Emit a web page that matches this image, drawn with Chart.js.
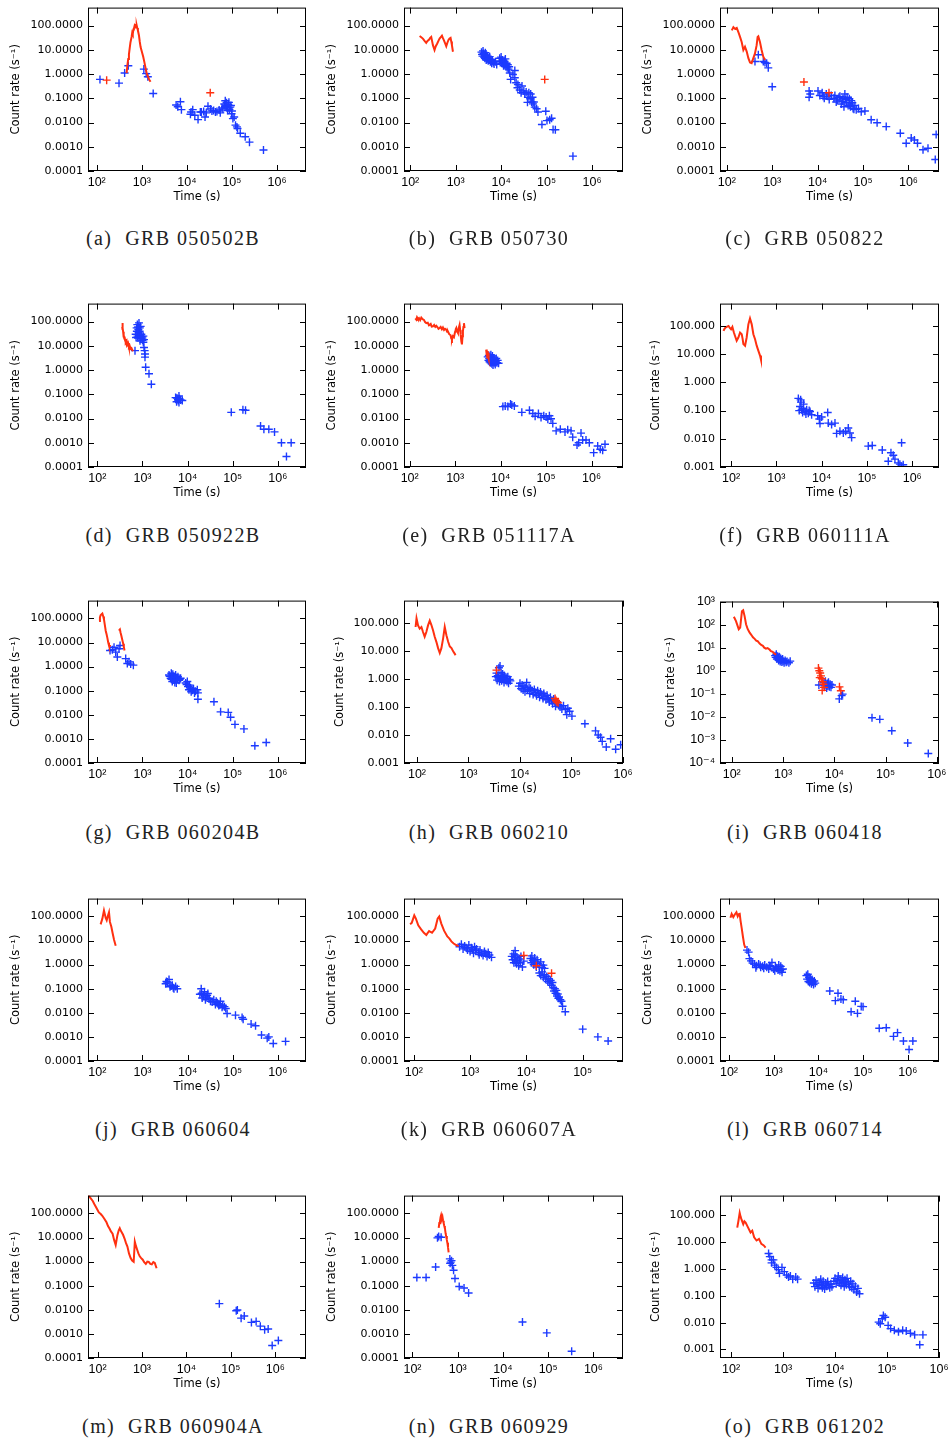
<!DOCTYPE html>
<html>
<head>
<meta charset="utf-8">
<script src="https://cdn.jsdelivr.net/npm/chart.js@4.4.0/dist/chart.umd.min.js"></script>
<style>
  body { margin: 0; background: #fff; width: 949px; height: 1444px; position: relative; overflow: hidden; }
  canvas { position: absolute; }
  .cap { position: absolute; font: 20px "Liberation Serif", serif; letter-spacing: 1.4px; color: #222;
         transform: translate(-50%, -50%); white-space: nowrap; }
</style>
</head>
<body>
<script>
// Tick labels
const xTickVals = [1e2, 1e3, 1e4, 1e5, 1e6];
const xTickText = ['10²', '10³', '10⁴', '10⁵', '10⁶'];
const yTickVals4 = [1e-4, 1e-3, 1e-2, 1e-1, 1, 10, 100];
const yTickText4 = ['0.0001', '0.0010', '0.0100', '0.1000', '1.0000', '10.0000', '100.0000'];
const yTickVals3 = [1e-3, 1e-2, 1e-1, 1, 10, 100];
const yTickText3 = ['0.001', '0.010', '0.100', '1.000', '10.000', '100.000'];
const yTickValsPow = [1e-4, 1e-3, 1e-2, 1e-1, 1, 10, 100, 1000];
const yTickTextPow = ['10⁻⁴', '10⁻³', '10⁻²', '10⁻¹', '10⁰', '10¹', '10²', '10³'];

const grbNames = ['GRB 050502B', 'GRB 050730', 'GRB 050822', 'GRB 050922B', 'GRB 051117A', 'GRB 060111A',
  'GRB 060204B', 'GRB 060210', 'GRB 060418', 'GRB 060604', 'GRB 060607A', 'GRB 060714',
  'GRB 060904A', 'GRB 060929', 'GRB 061202'];

// Time ranges of each panel (s)
const xRanges = [[64, 4.4e6], [73, 4.8e6], [71, 4.7e6], [62, 4.2e6], [75, 4.9e6], [57, 3.9e6],
  [62, 4.2e6], [56, 1e6], [59, 1.1e6], [62, 4.2e6], [67, 5.2e5], [63, 5e6],
  [61, 4.9e6], [65, 4.5e6], [61, 1e6]];

// (a) GRB 050502B  [time (s), count rate (1/s)]
const redA = [[460,1.1],[480,2.4],[500,4.2],[518,6.5],[540,12],[560,20],[594,34],[612,50],[630,44],[650,68],[668,75],[690,96],[710,84],[728,117],[745,94],[770,102],[793,80],[820,62],[863,40],[900,22],[940,13],[1000,8.5],[1075,5.2],[1140,3.1],[1210,1.8],[1280,1.1],[1364,0.8],[1450,0.6],[1563,0.48]];
const redPtsA = [[166,0.56],[33000,0.17]];
const blueA = [[118,0.6],[312,0.42],[416,1.11],[502,2.2],[1110,1.6],[1250,1.04],[1360,0.77],[1790,0.157],[5770,0.053],[6280,0.045],[7190,0.072],[7570,0.034],[12400,0.027],[13500,0.034],[12000,0.022],[17700,0.0132],[19900,0.027],[23600,0.0285],[25300,0.0168],[29400,0.047],[33100,0.0365],[39300,0.031],[46500,0.0285],[55100,0.025],[63100,0.0365],[67600,0.058],[71100,0.079],[74800,0.05],[80000,0.031],[85700,0.068],[91700,0.043],[98100,0.023],[105000,0.0145],[112000,0.0168],[120000,0.0078],[129000,0.0066],[133000,0.0057],[153000,0.0036],[197000,0.0026],[245000,0.00155],[501000,0.00073],[70000,0.045],[76000,0.065],[78000,0.04],[83000,0.055],[88000,0.035],[95000,0.05],[100000,0.03],[60000,0.04],[52000,0.033],[43000,0.027],[36000,0.03],[27000,0.025],[21000,0.027],[15000,0.02]];

// (b) GRB 050730
const redB = [[161,37],[175,33],[190,29],[205,24],[225,19.3],[240,23],[258,26],[275,31],[290,34],[316,15.5],[343,9.8],[365,14],[393,18.2],[420,24],[443,29],[470,33],[499,38],[525,30],[552,24.5],[590,18],[621,14.1],[660,20],[699,26],[735,29],[773,31],[800,22],[827,15.5],[871,8.3]];
const redPtsB = [[91000,0.6]];
const blueB = [[3700,8],[3800,6.5],[3900,5.5],[4000,9],[4100,7],[4200,5],[4300,6.2],[4400,4.5],[4500,7.5],[4600,5.5],[4700,3.8],[4800,6],[4900,4.2],[5000,5],[5200,3.5],[5300,4.5],[5500,3.8],[5600,5.2],[5800,3.2],[6000,4],[6200,2.8],[6400,3.6],[6700,3],[7000,2.6],[7500,3.2],[8000,2.5],
  [9300,4.5],[9700,3.5],[10000,5],[10300,2.8],[10600,3.8],[11000,3],[11300,2.2],[11700,3.3],[12000,2.5],[12400,4.2],[12800,2],[13200,2.8],[13600,1.8],[14000,2.4],[14500,1.6],[15000,2],[15500,1.1],
  [16200,0.6],[18200,0.95],[20000,1.4],[20000,0.7],[21400,0.44],[22900,0.27],[23400,0.37],[25700,0.22],[27500,0.17],[28800,0.32],[31600,0.2],[33100,0.15],[35500,0.18],[38000,0.068],[38900,0.11],[40700,0.17],[43600,0.095],[44700,0.15],[46800,0.07],[49000,0.11],[50100,0.059],[52500,0.07],[55000,0.043],[60300,0.037],[64600,0.027],
  [79000,0.0083],[96000,0.029],[102000,0.012],[117000,0.013],[129000,0.015],[139000,0.0051],[156000,0.005],[380000,0.00041]];

// (c) GRB 050822
const redC = [[129,63],[140,86],[152,73],[166,80],[180,54],[196,34],[213,21],[232,9.8],[252,13.3],[275,8.4],[299,4.5],[325,3.0],[353,2.8],[385,4.5],[418,7.1],[455,15.5],[478,34],[495,36],[538,21],[585,9.8],[637,5.2],[693,3.8]];
const redPtsC = [[5000,0.47],[17800,0.17]];
const blueC = [[418,3.3],[495,6.2],[637,3.3],[693,3.0],[755,2.8],[820,1.8],[1000,0.3],
  [6500,0.2],[6500,0.11],[6900,0.15],[10200,0.2],[11200,0.13],[12600,0.17],[13200,0.12],[15500,0.15],[20000,0.13],[22900,0.1],[25700,0.07],[29500,0.11],[33100,0.058],[36300,0.095],[39800,0.15],[42700,0.068],[44700,0.11],[51300,0.058],[55000,0.08],[60300,0.038],[66100,0.05],[70800,0.034],[79400,0.038],[91200,0.028],
  [14000,0.1],[17000,0.12],[18000,0.09],[24000,0.13],[27000,0.085],[31000,0.12],[35000,0.075],[38000,0.045],[41000,0.09],[47000,0.05],[50000,0.095],[53000,0.045],[58000,0.065],[63000,0.035],
  [110000,0.03],[151000,0.013],[204000,0.0098],[324000,0.0068],[661000,0.0036],[891000,0.0014],[1150000,0.0023],[1350000,0.0019],[1580000,0.0014],[2090000,0.00075],[2690000,0.00087],[4070000,0.0032],[3890000,0.0003]];

// (d) GRB 050922B
const redD = [[355,60],[358,88],[362,45],[367,55],[372,38],[378,32],[383,22],[388,28],[395,20],[400,24],[410,17],[420,19],[430,14],[445,16],[460,11],[480,13],[500,9],[520,10],[545,7.5],[570,8],[600,6.5],[630,6.8]];
const blueD = [[682,6.3],[706,30],[720,22],[743,55],[750,40],[769,75],[780,25],[794,21],[800,60],[809,48],[820,35],[836,88],[845,28],[865,40],[870,55],[881,16],[890,25],[910,63],[920,20],[942,30],[960,24],[991,21],[1000,17],[1043,25],[1043,14],[1079,18],[1079,8.5],[1117,6.3],[1136,4.6],[1136,3.4],[1175,1.3],[1393,0.7],[1570,0.26],
  [5420,0.073],[5700,0.049],[6100,0.062],[6430,0.085],[6430,0.046],[7000,0.058],[7620,0.055],[5800,0.07],[6200,0.055],[6600,0.065],
  [92700,0.018],[168000,0.023],[192000,0.022],[413000,0.0049],[490000,0.0036],[630000,0.0036],[843000,0.0028],[1200000,0.001],[1970000,0.001],[1550000,0.00027]];

// (e) GRB 051117A
const redE = [[133,136],[140,120],[145,150],[152,128],[160,140],[170,115],[180,145],[192,125],[206,117],[218,95],[232,86],[250,90],[265,70],[275,73],[290,80],[305,62],[325,63],[345,72],[365,60],[385,67],[410,58],[430,50],[455,54],[480,60],[510,48],[538,57],[570,45],[600,50],[637,46],[665,38],[693,39],[740,30],[795,27],[820,20],[850,18],[890,25],[940,22.5],[970,30],[1000,39],[1030,48],[1060,54],[1100,40],[1150,34],[1200,55],[1250,73],[1290,45],[1320,29],[1370,15],[1410,11.4],[1450,25],[1480,39],[1520,60],[1560,86],[1610,54]];
const redE2 = [[4800,7],[4900,4],[5000,5.5],[5100,3.2],[5200,6],[5300,3.8],[5400,5],[5500,3]];
const blueE = [[5200,3.5],[5400,2.5],[5500,4],[5600,3],[5700,2.2],[5800,3.6],[5900,2.8],[6000,2],[6100,4.3],[6200,2.5],[6300,3.2],[6400,1.8],[6500,2.7],[6600,3.8],[6700,2.2],[6800,1.6],[6900,3],[7000,2.4],[7200,2],[7400,2.8],[7600,1.7],[7800,2.3],[8000,3],[8300,2],[8600,2.5],[9000,1.9],
  [11200,0.031],[12600,0.033],[14400,0.031],[16500,0.04],[17600,0.036],[20000,0.033],[29200,0.018],[43000,0.022],[51000,0.016],[57300,0.0124],[67700,0.016],[77300,0.011],[88700,0.013],[100000,0.0116],[109000,0.0093],[118000,0.013],[128000,0.0098],[140000,0.0063],[166000,0.0031],[205000,0.0036],[260000,0.0028],[298000,0.0034],[353000,0.0031],[384000,0.0017],[478000,0.00081],[520000,0.001],[585000,0.0025],[636000,0.0013],[753000,0.0013],[891000,0.001],[1110000,0.00039],[1360000,0.00074],[1550000,0.00054],[1750000,0.00049],[1970000,0.00087]];

// (f) GRB 060111A
const redF = [[68,67],[72,80],[76,88],[82,95],[88,100],[94,85],[100,76],[107,92],[115,60],[122,45],[133,30],[145,39],[158,58],[172,51],[180,35],[187,23],[204,20],[221,39],[241,114],[262,185],[286,114],[311,51],[339,34],[368,20],[400,13.3],[436,8.9],[458,6.3]];
const blueF = [[3060,0.27],[3440,0.24],[3330,0.14],[3620,0.106],[3940,0.12],[4290,0.093],[4670,0.106],[5080,0.081],[5530,0.093],[6010,0.071],[3200,0.1],[3800,0.085],[4500,0.075],[5300,0.1],[4000,0.17],[3500,0.2],
  [8160,0.066],[8890,0.05],[10000,0.059],[9190,0.035],[13600,0.085],[14000,0.036],[16600,0.032],[19700,0.036],[21400,0.0155],[25300,0.0186],[30100,0.016],[33900,0.0186],[38700,0.024],[42200,0.016],[45900,0.011],
  [107000,0.0055],[131000,0.0058],[218000,0.004],[296000,0.0016],[339000,0.0032],[381000,0.0026],[415000,0.0019],[492000,0.0014],[534000,0.00126],[582000,0.00105],[632000,0.0012],[582000,0.0072]];

// (g) GRB 060204B
const redG1 = [[109,78],[114,110],[118,136],[124,150],[129,160],[135,120],[140,91],[146,55],[153,31],[160,22],[166,16],[174,10],[181,7.5],[198,7]];
const redG2 = [[300,31],[316,35],[328,25],[340,19],[356,13],[373,9],[386,6.5],[400,4.7]];
const blueG = [[191,4.7],[215,5.0],[234,6.4],[255,4.0],[277,2.5],[302,5.5],[318,7.5],[424,2.15],[461,1.35],[502,1.58],[547,1.27],[627,1.15],
  [3870,0.45],[4210,0.33],[4350,0.53],[4570,0.24],[4820,0.39],[4980,0.28],[5420,0.45],[5610,0.21],[5900,0.33],[6430,0.27],[7000,0.33],[4000,0.4],[4400,0.3],[4700,0.48],[5100,0.36],[5200,0.22],[5700,0.3],[6100,0.38],[6700,0.3],
  [9040,0.21],[9850,0.24],[10200,0.15],[10700,0.11],[11700,0.13],[12700,0.105],[15000,0.096],[16400,0.11],[16900,0.081],[16900,0.044],[9500,0.18],[11000,0.17],[12000,0.09],[13500,0.12],[14200,0.08],
  [38300,0.035],[53800,0.0133],[79400,0.0126],[89500,0.0079],[112000,0.004],[177000,0.0026],[309000,0.00052],[552000,0.00071]];

// (h) GRB 060210
const redH = [[94,71],[98,145],[105,81],[113,62],[122,71],[131,47],[141,32],[152,47],[164,81],[177,120],[190,85],[205,54],[221,32],[238,21],[257,12.5],[277,8.4],[298,12.5],[322,28],[346,71],[373,36],[403,21],[434,14.3],[468,12.5],[504,9.6],[543,7.8],[560,7]];
const redPtsH = [[3500,2.05],[48000,0.2],[50000,0.17],[52000,0.15],[55000,0.14]];
const blueH = [[3400,1.2],[3500,1.6],[3600,0.9],[3700,1.3],[3800,1.1],[3900,2.5],[4000,0.8],[4100,2.9],[4200,1.0],[4300,1.7],[4400,0.85],[4500,1.2],[4600,1.5],[4700,0.95],[4800,1.1],[4900,0.75],[5000,1.3],[5200,0.9],[5400,1.05],[5600,0.8],[5800,1.2],[6000,0.7],[6300,0.95],[6500,0.85],
  [9500,0.55],[10000,0.7],[10500,0.45],[11000,0.6],[11500,0.4],[12000,0.55],[12500,0.35],[13000,0.5],[13500,0.75],[14000,0.42],[15000,0.5],[15500,0.3],[16000,0.45],[17000,0.38],[18000,0.28],[19000,0.42],[20000,0.33],[21000,0.25],[22000,0.38],[23000,0.3],[24000,0.22],[25000,0.34],[26500,0.27],[28000,0.2],[29000,0.3],[30500,0.24],[32000,0.18],[33500,0.26],[35000,0.2],[37000,0.15],[39000,0.22],[41000,0.17],[43000,0.13],[45000,0.19],[48000,0.14],[49000,0.105],[53000,0.15],[56000,0.12],[60000,0.1],[65000,0.085],[70000,0.11],[76000,0.08],[81000,0.053],[85000,0.09],[92000,0.07],[102000,0.047],
  [182000,0.025],[293000,0.014],[330000,0.01],[366000,0.0083],[395000,0.0059],[473000,0.0037],[575000,0.0073],[720000,0.0031],[900000,0.0045]];

// (i) GRB 060418
const redI = [[110,218],[121,142],[137,63],[146,74],[158,380],[167,420],[178,233],[190,103],[205,63],[222,46],[240,36],[259,28],[280,24],[300,20],[320,19],[350,15],[375,13],[405,12],[430,10],[465,9],[500,9.5],[545,8.3],[580,7],[630,6.6],[680,5.5],[735,5.0]];
const redPtsI = [[4900,1.3],[5100,1.0],[5300,0.8],[5500,0.6],[5200,0.5],[5700,0.45],[5900,0.33],[6100,0.26],[5800,0.14],[6300,0.19],[12600,0.2],[13400,0.135]];
const blueI = [[700,4.5],[720,3.8],[740,5.2],[760,3.2],[780,4.2],[800,3.5],[820,2.8],[840,4],[860,3.1],[880,2.5],[900,3.4],[920,2.9],[950,2.4],[980,3.2],[1000,2.6],[1050,2.2],[1100,2.8],[1150,2.3],[1200,2.5],[1300,2.2],[1380,2.6],
  [5000,0.24],[6300,0.3],[6500,0.22],[6700,0.35],[6900,0.25],[7100,0.18],[7300,0.28],[7500,0.22],[7700,0.32],[8000,0.2],[8300,0.26],[8600,0.19],[9000,0.24],
  [12500,0.06],[13900,0.083],[14500,0.097],[54300,0.0091],[77000,0.0078],[132000,0.0025],[270000,0.00074],[680000,0.00026]];

// (j) GRB 060604
const redJ = [[118,47],[129,81],[140,175],[153,86],[161,69],[172,110],[181,150],[190,59],[204,37],[218,20],[234,10.7],[255,6.1]];
const blueJ = [[3260,0.16],[3550,0.19],[3870,0.24],[4070,0.12],[4580,0.14],[4980,0.1],[5420,0.125],[5900,0.1],[3400,0.2],[4300,0.13],[4800,0.11],
  [18700,0.059],[20000,0.1],[21000,0.041],[22800,0.055],[23600,0.075],[24800,0.035],[27000,0.052],[28100,0.063],[32100,0.03],[38000,0.035],[41300,0.022],[45000,0.026],[49000,0.02],[53300,0.03],[58000,0.017],[65400,0.018],[75000,0.0094],[20500,0.065],[25500,0.045],[30000,0.04],[35000,0.028],[43000,0.03],[47000,0.024],[52000,0.021],[60000,0.02],[70000,0.015],
  [115000,0.008],[161000,0.0064],[170000,0.0054],[255000,0.0034],[320000,0.0029],[434000,0.0012],[580000,0.00089],[630000,0.001],[790000,0.00053],[1480000,0.00065]];

// (k) GRB 060607A
const redK = [[86,47.6],[92,54],[102,110],[109,81],[120,43],[135,29],[151,21],[167,17.1],[187,24.8],[211,21],[240,31.6],[265,81],[283,100],[308,50.6],[345,25.6],[394,14.7],[430,12],[465,9.2],[510,7.5],[549,6.75],[626,5.8]];
const redPtsK = [[9000,2.4],[15000,0.9],[28000,0.44]];
const blueK = [[650,5.5],[700,7],[750,4.5],[800,6],[850,5],[900,4],[950,6.5],[1000,3.5],[1050,5],[1100,4.2],[1150,3],[1200,5.5],[1250,3.8],[1300,4.5],[1400,3.2],[1450,2.6],[1500,4],[1600,3],[1700,2.4],[1800,3.5],[1900,2.8],[2000,2.2],[2100,3.2],[2200,2.5],[2400,2],
  [5500,2.2],[5700,1.6],[5900,2.8],[6000,1.2],[6200,1.9],[6300,3.8],[6400,2.5],[6500,1.4],[6700,1.1],[6800,2],[7000,1.5],[7300,0.9],[7500,1.7],[7800,1.2],[8000,2.2],[8500,0.8],[9000,1.4],
  [11800,1.8],[12200,1.2],[12500,2.3],[13000,1.5],[13500,1],[14000,1.9],[14500,1.3],[15000,0.8],[15500,1.6],[16000,1.1],[17000,0.9],[18000,1.3],[19000,0.75],[20000,0.95],[21000,0.7],
  [17000,0.45],[18000,0.35],[19000,0.5],[20000,0.3],[21000,0.38],[22000,0.25],[23000,0.32],[24000,0.2],[25000,0.26],[26000,0.17],[27000,0.22],[28000,0.14],[29000,0.18],[30000,0.11],[31000,0.08],[32000,0.1],[33000,0.065],[34000,0.085],[35000,0.05],[36000,0.06],[37000,0.04],[38000,0.045],[40000,0.035],[42000,0.03],[43900,0.0186],[49000,0.011],
  [100000,0.0021],[186000,0.001],[283000,0.00068]];

// (l) GRB 060714
const redL = [[108,88],[115,128],[125,94],[135,120],[147,150],[157,100],[167,125],[174,128],[181,69],[193,32],[205,14.7],[219,6.8],[233,4.9]];
const blueL = [[253,4],[275,3.3],[287,1.78],[311,1.43],[338,1.15],[375,1.05],[416,0.9],[461,1.05],[513,0.77],[569,0.85],[631,0.96],[700,0.77],[776,0.66],[861,0.85],[916,1.23],[995,0.66],[1059,0.56],[1175,0.7],[1300,0.96],[1380,0.56],[1440,0.85],[1540,0.48],[1610,0.66],[400,0.75],[500,0.95],[600,0.7],[800,0.9],[1100,0.8],[1250,0.6],[1500,0.62],
  [5400,0.35],[5600,0.25],[5800,0.4],[6000,0.2],[6200,0.3],[6400,0.18],[6600,0.26],[6800,0.22],[7000,0.16],[7200,0.24],[7500,0.19],[7800,0.15],[8100,0.21],[8500,0.17],
  [18000,0.08],[24000,0.032],[27500,0.065],[32000,0.037],[36000,0.035],[54000,0.011],[67000,0.03],[75000,0.0095],[91000,0.0185],[100000,0.018],[230000,0.0023],[330000,0.0024],[480000,0.00105],[590000,0.0015],[800000,0.00068],[1070000,0.0003],[1300000,0.00068]];

// (m) GRB 060904A
const redM = [[60,600],[69,445],[78,330],[85,240],[96,160],[107,110],[118,95],[128,80],[142,60],[159,43],[172,30],[187,23],[200,18],[218,14.4],[236,8],[256,4.9],[280,12.6],[300,20],[316,24.5],[330,20],[347,17],[375,13],[405,9.1],[435,6],[470,4.2],[510,2.2],[555,1.4],[600,1.1],[650,0.98],[690,6.7],[730,4.5],[780,3.1],[830,2.2],[890,1.66],[960,1.4],[1040,1.2],[1120,0.95],[1220,0.8],[1320,1.0],[1420,0.98],[1540,0.8],[1660,0.77],[1800,0.95],[1940,0.88],[2130,0.53]];
const blueM = [[55000,0.018],[132000,0.0092],[140000,0.0098],[170000,0.0045],[200000,0.0055],[290000,0.003],[370000,0.0033],[460000,0.0021],[575000,0.0015],[690000,0.0016],[850000,0.00033],[1170000,0.00053]];

// (n) GRB 060929
const redN = [[380,25],[392,40],[405,46],[418,70],[430,85],[445,60],[460,73],[475,50],[490,39],[505,30],[520,25],[540,15],[555,11.5],[575,8],[590,6.1],[610,4],[630,2.4]];
const blueN = [[125,0.22],[200,0.22],[325,0.6],[357,9.7],[380,11],[430,10.3],[670,1.3],[680,0.85],[700,0.95],[730,1.1],[760,0.7],[810,0.44],[870,0.2],[1080,0.093],[1380,0.08],[1740,0.05],[27000,0.0031],[93000,0.0011],[330000,0.00019]];

// (o) GRB 061202
const redO = [[131,35],[138,62],[146,125],[152,90],[158,71],[171,47],[180,60],[190,54],[212,35],[236,23],[255,27],[277,15.3],[308,11.6],[343,13.3],[381,8.7],[424,7.6],[460,6.3]];
const blueO = [[525,3.8],[555,2.9],[600,2.2],[600,1.7],[650,2.2],[690,1.4],[745,1.15],[810,0.95],[850,0.7],[950,1.15],[1055,0.8],[1170,0.6],[1270,0.5],[1380,0.55],[1530,0.42],[1750,0.5],[1900,0.42],
  [3900,0.3],[4100,0.22],[4300,0.38],[4500,0.26],[4700,0.19],[4900,0.32],[5100,0.24],[5300,0.42],[5500,0.28],[5700,0.2],[5900,0.35],[6100,0.25],[6300,0.18],[6600,0.3],[6900,0.23],[7200,0.34],[7500,0.26],[7900,0.2],[8300,0.28],[8700,0.22],
  [9500,0.35],[10000,0.45],[10500,0.28],[11000,0.38],[11500,0.55],[12000,0.3],[12500,0.42],[13000,0.25],[13500,0.36],[14000,0.48],[14500,0.3],[15000,0.22],[15500,0.4],[16000,0.33],[16500,0.26],[17000,0.45],[18000,0.3],[19000,0.22],[20000,0.35],[21000,0.2],[22000,0.28],[23000,0.17],[24500,0.23],[26000,0.14],[27500,0.19],[29500,0.12],
  [69000,0.0105],[74000,0.0091],[81000,0.014],[85000,0.0185],[92000,0.016],[105000,0.0079],[117000,0.006],[138000,0.0052],[166000,0.0046],[200000,0.0052],[234000,0.0049],[282000,0.004],[340000,0.0035],[426000,0.0015],[490000,0.0035]];

// Panels in reading order; y = which count-rate axis style
const panels = [
  { red: [redA], pts: redPtsA, blue: blueA, y: '4' },
  { red: [redB], pts: redPtsB, blue: blueB, y: '4' },
  { red: [redC], pts: redPtsC, blue: blueC, y: '4' },
  { red: [redD], pts: [], blue: blueD, y: '4' },
  { red: [redE, redE2], pts: [], blue: blueE, y: '4' },
  { red: [redF], pts: [], blue: blueF, y: '3' },
  { red: [redG1, redG2], pts: [], blue: blueG, y: '4' },
  { red: [redH], pts: redPtsH, blue: blueH, y: '3' },
  { red: [redI], pts: redPtsI, blue: blueI, y: 'p' },
  { red: [redJ], pts: [], blue: blueJ, y: '4' },
  { red: [redK], pts: redPtsK, blue: blueK, y: '4' },
  { red: [redL], pts: [], blue: blueL, y: '4' },
  { red: [redM], pts: [], blue: blueM, y: '4' },
  { red: [redN], pts: [], blue: blueN, y: '4' },
  { red: [redO], pts: [], blue: blueO, y: 'o' }
];

const yAxes = {
  '4': { vals: yTickVals4, text: yTickText4, range: [1e-4, 550], titlePad: 9 },
  '3': { vals: yTickVals3, text: yTickText3, range: [1e-3, 620], titlePad: 17 },
  'p': { vals: yTickValsPow, text: yTickTextPow, range: [1e-4, 1e3], titlePad: 32 },
  'o': { vals: yTickVals3, text: yTickText3, range: [4.8e-4, 550], titlePad: 17 }
};

// Layout (px)
const colBox = [[88, 306], [404, 623], [720, 939]];
const rowBox = [[4, 171], [300, 467], [597, 763], [895, 1061], [1192, 1358]];
const capX = [173, 489, 805];
const capY = [238, 535, 832, 1129, 1426];
const PAD_T = 8, PAD_R = 14, Y_W = 88, X_H = 36;

const RED = 'rgb(255,48,16)';
const BLUE = 'rgb(28,58,255)';
const FONT = "'DejaVu Sans', sans-serif";
const XFONT = "'Liberation Sans', 'DejaVu Sans', sans-serif";

const toXY = arr => arr.map(([x, y]) => ({ x, y }));

// box around the plot and inward ticks on all four sides
const framePlugin = {
  id: 'frame',
  afterDraw(chart) {
    const { ctx, chartArea: a, scales: { x, y } } = chart;
    ctx.save();
    ctx.strokeStyle = '#000';
    ctx.lineWidth = 1;
    ctx.strokeRect(a.left + 0.5, a.top + 0.5, a.right - a.left - 1, a.bottom - a.top - 1);
    ctx.beginPath();
    x.ticks.forEach(t => {
      const px = Math.round(x.getPixelForValue(t.value)) + 0.5;
      ctx.moveTo(px, a.bottom); ctx.lineTo(px, a.bottom - 6);
      ctx.moveTo(px, a.top); ctx.lineTo(px, a.top + 6);
    });
    y.ticks.forEach(t => {
      const py = Math.round(y.getPixelForValue(t.value)) + 0.5;
      ctx.moveTo(a.left, py); ctx.lineTo(a.left + 6, py);
      ctx.moveTo(a.right, py); ctx.lineTo(a.right - 6, py);
    });
    ctx.stroke();
    ctx.restore();
  }
};

panels.forEach((p, i) => {
  const col = i % 3, row = Math.floor(i / 3);
  const [bl, br] = colBox[col];
  const [bt, bb] = rowBox[row];
  const w = br - bl + Y_W + PAD_R;
  const h = bb - bt + PAD_T + X_H;
  const cv = document.createElement('canvas');
  cv.width = w; cv.height = h;
  cv.style.left = (bl - Y_W) + 'px';
  cv.style.top = (bt - PAD_T) + 'px';
  cv.style.width = w + 'px';
  cv.style.height = h + 'px';
  document.body.appendChild(cv);

  const ya = yAxes[p.y];
  const [xmin, xmax] = xRanges[i];

  const datasets = [];
  if (p.pts.length) {
    datasets.push({ data: toXY(p.pts), showLine: false, pointStyle: 'cross', pointRadius: 4,
      borderColor: RED, borderWidth: 1.4, order: 0 });
  }
  p.red.forEach(r => datasets.push({ data: toXY(r), showLine: true, pointRadius: 0,
    borderColor: RED, borderWidth: 2, order: 1 }));
  datasets.push({ data: toXY(p.blue), showLine: false, pointStyle: 'cross', pointRadius: 4,
    borderColor: BLUE, borderWidth: 1.4, order: 2 });

  new Chart(cv, {
    type: 'scatter',
    data: { datasets },
    options: {
      responsive: false,
      animation: false,
      events: [],
      layout: { padding: { top: PAD_T, right: PAD_R, left: 0, bottom: 0 } },
      plugins: { legend: { display: false }, tooltip: { enabled: false } },
      scales: {
        x: {
          type: 'logarithmic', min: xmin, max: xmax,
          grid: { display: false, drawTicks: false, tickLength: 0 }, border: { display: false },
          afterBuildTicks: s => { s.ticks = xTickVals.filter(v => v >= xmin && v <= xmax * 1.001).map(v => ({ value: v })); },
          afterFit: s => { s.height = X_H; },
          ticks: { autoSkip: false, maxRotation: 0, padding: 4, color: '#000',
            font: { family: XFONT, size: 12.5 },
            callback: v => xTickText[Math.round(Math.log10(v)) - 2] },
          title: { display: true, text: 'Time (s)', color: '#000', padding: { top: 0, bottom: 3 },
            font: { family: FONT, size: 11.5 } }
        },
        y: {
          type: 'logarithmic', min: ya.range[0], max: ya.range[1],
          grid: { display: false, drawTicks: false, tickLength: 0 }, border: { display: false },
          afterBuildTicks: s => { s.ticks = ya.vals.filter(v => v >= ya.range[0] && v <= ya.range[1]).map(v => ({ value: v })); },
          afterFit: s => { s.width = Y_W; },
          ticks: { autoSkip: false, padding: 5, color: '#000',
            font: { family: p.y === 'p' ? XFONT : FONT, size: p.y === 'p' ? 12.5 : 11 },
            callback: v => ya.text[ya.vals.findIndex(t => Math.abs(Math.log10(t) - Math.log10(v)) < 0.01)] },
          title: { display: true, text: 'Count rate (s⁻¹)', color: '#000', padding: { top: ya.titlePad, bottom: 0 },
            font: { family: FONT, size: 11.5 } }
        }
      }
    },
    plugins: [framePlugin]
  });

  const cap = document.createElement('div');
  cap.className = 'cap';
  cap.style.left = capX[col] + 'px';
  cap.style.top = capY[row] + 'px';
  cap.innerHTML = '(' + String.fromCharCode(97 + i) + ')&nbsp; ' + grbNames[i];
  document.body.appendChild(cap);
});
</script>
</body>
</html>
